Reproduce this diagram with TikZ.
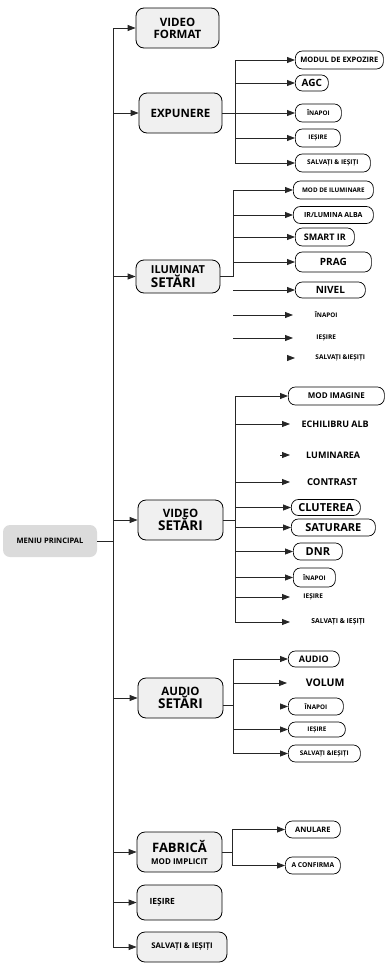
\documentclass[tikz,border=0pt]{standalone}
\usepackage{fontspec}
\setmainfont{Open Sans}
\usetikzlibrary{arrows.meta}
\newcommand{\fsz}[2]{\fontsize{#1}{#2}\selectfont}
\tikzset{
  menubox/.style={fill=gray!28, rounded corners=7pt, minimum width=94pt, minimum height=32pt, font=\bfseries\fsz{7.5}{9}},
  topbox/.style={draw, fill=gray!12, rounded corners=8pt, line width=0.8pt, align=center, font=\bfseries},
  pill/.style={draw, rounded corners=7pt, line width=0.7pt, anchor=west, inner sep=0pt, font=\bfseries},
  bare/.style={anchor=west, inner sep=0pt, font=\bfseries},
  link/.style={line width=0.8pt, draw=black!85},
  arrow/.style={link, -{Triangle[length=8pt,width=6pt]}}
}

\begin{document}
\begin{tikzpicture}[x=1pt, y=-1pt]
\useasboundingbox (0,0) rectangle (385,964);

% main menu and first level
\node[menubox] (menu) at (50,541) {MENIU PRINCIPAL};
\node[topbox, minimum width=83pt, minimum height=40pt] (vf) at (177.5,28) {\fsz{11.5}{17}VIDEO\\\fsz{11.5}{17}FORMAT};
\node[topbox, minimum width=83pt, minimum height=40pt] (ex) at (180.5,113) {\fsz{11.5}{14}EXPUNERE};
\node[topbox, minimum width=84pt, minimum height=33pt, align=left] (il) at (178,276.5) {\fsz{11}{16}ILUMINAT\\\fsz{13.5}{16}SETĂRI};
\node[topbox, minimum width=85pt, minimum height=40pt] (vs) at (180.5,520) {\fsz{11.5}{16}VIDEO\\\fsz{13.5}{16}SETĂRI};
\node[topbox, minimum width=85pt, minimum height=40pt] (as) at (180.5,698) {\fsz{11.5}{16}AUDIO\\\fsz{13.5}{16}SETĂRI};
\node[topbox, minimum width=85pt, minimum height=40pt] (fx) at (179.5,852) {\fsz{13}{20}FABRICĂ\\\fsz{8}{20}MOD IMPLICIT};
\node[topbox, minimum width=85pt, minimum height=35pt, align=left, text width=60pt] (ix) at (179.5,902.5) {\fsz{8.5}{10}IEȘIRE};
\node[topbox, minimum width=90pt, minimum height=30pt] (sx) at (182,947) {\fsz{7.8}{10}SALVAȚI \& IEȘIȚI};

% expunere
\node[pill, minimum width=88pt, minimum height=18pt] (e1) at (295,60) {\fsz{7.5}{9}MODUL DE EXPOZIRE};
\node[pill, minimum width=33pt, minimum height=16pt] (e2) at (295,83) {\fsz{10}{12}AGC};
\node[pill, minimum width=46pt, minimum height=18pt] (e3) at (295,113) {\fsz{6.3}{8}ÎNAPOI};
\node[pill, minimum width=45pt, minimum height=18pt] (e4) at (295,138) {\fsz{6.3}{8}IEȘIRE};
\node[pill, minimum width=75pt, minimum height=18pt] (e5) at (295,163) {\fsz{6.5}{8}SALVAȚI \& IEȘIȚI};

% iluminat
\node[pill, minimum width=80pt, minimum height=18pt] (i1) at (293,190) {\fsz{6.3}{8}MOD DE ILUMINARE};
\node[pill, minimum width=80pt, minimum height=17pt] (i2) at (293,215) {\fsz{7}{8}IR/LUMINA ALBA};
\node[pill, minimum width=59pt, minimum height=18pt] (i3) at (295,237) {\fsz{9}{11}SMART IR};
\node[pill, minimum width=76pt, minimum height=20pt] (i4) at (295,262) {\fsz{10}{12}PRAG};
\node[pill, minimum width=70pt, minimum height=16pt] (i5) at (295,290) {\fsz{10}{12}NIVEL};
\node[bare, minimum width=66pt] (i6) at (293,315) {\fsz{6.3}{8}ÎNAPOI};
\node[bare, minimum width=66pt] (i7) at (293,338) {\fsz{6.5}{8}IEȘIRE};
\node[bare, minimum width=90pt] (i8) at (295,358) {\fsz{6.5}{8}SALVAȚI \&IEȘIȚI};

% video setari
\node[pill, minimum width=96pt, minimum height=18pt] (v1) at (288,396) {\fsz{8}{10}MOD IMAGINE};
\node[bare, minimum width=90pt] (v2) at (290,424) {\fsz{9}{11}ECHILIBRU ALB};
\node[bare, minimum width=86pt] (v3) at (290,455) {\fsz{9}{11}LUMINAREA};
\node[bare, minimum width=84pt] (v4) at (290,482) {\fsz{9.5}{11}CONTRAST};
\node[pill, minimum width=69pt, minimum height=16pt] (v5) at (291,507.5) {\fsz{11}{13}CLUTEREA};
\node[pill, minimum width=84pt, minimum height=17pt] (v6) at (291,527.5) {\fsz{11}{13}SATURARE};
\node[pill, minimum width=49pt, minimum height=17pt] (v7) at (293,551.5) {\fsz{11}{13}DNR};
\node[pill, minimum width=42pt, minimum height=19pt] (v8) at (293,577.5) {\fsz{6.3}{8}ÎNAPOI};
\node[bare, minimum width=46pt] (v9) at (290,597) {\fsz{6.5}{8}IEȘIRE};
\node[bare, minimum width=96pt] (v10) at (290,622) {\fsz{6.8}{8}SALVAȚI \& IEȘIȚI};

% audio setari
\node[pill, minimum width=51pt, minimum height=16pt] (a1) at (288,659) {\fsz{9}{11}AUDIO};
\node[bare, minimum width=76pt] (a2) at (287,683) {\fsz{10.5}{12}VOLUM};
\node[pill, minimum width=55pt, minimum height=17pt] (a3) at (288,706.5) {\fsz{6.3}{8}ÎNAPOI};
\node[pill, minimum width=57pt, minimum height=15pt] (a4) at (288,729.5) {\fsz{6.3}{8}IEȘIRE};
\node[pill, minimum width=72pt, minimum height=17pt] (a5) at (288,753.5) {\fsz{6.4}{8}SALVAȚI \&IEȘIȚI};

% fabrica
\node[pill, minimum width=55pt, minimum height=17pt] (f1) at (285,829.5) {\fsz{7.5}{9}ANULARE};
\node[pill, minimum width=55pt, minimum height=17pt] (f2) at (285,865.5) {\fsz{6.7}{8}A CONFIRMA};

% trunk
\coordinate (trunk) at (113,0);
\draw[link] (trunk |- vf) -- (trunk |- sx);
\draw[link] (menu.east) -- (trunk |- menu);
\draw[arrow] (trunk |- vf) -- (vf.west);
\draw[arrow] (trunk |- ex) -- (ex.west);
\draw[arrow] (trunk |- il) -- (il.west);
\draw[arrow] (trunk |- vs) -- (vs.west);
\draw[arrow] (trunk |- as) -- (as.west);
\draw[arrow] (trunk |- fx) -- (fx.west);
\draw[arrow] (trunk |- ix) -- (ix.west);
\draw[arrow] (trunk |- sx) -- (sx.west);

% expunere links
\coordinate (eb) at (235,113);
\draw[link] (ex.east) -- (eb);
\draw[link] (eb |- e1) -- (eb |- e5);
\draw[arrow] (eb |- e1) -- (e1.west);
\draw[arrow] (eb |- e2) -- (e2.west);
\draw[arrow] (eb |- e3) -- (e3.west);
\draw[arrow] (eb |- e4) -- (e4.west);
\draw[arrow] (eb |- e5) -- (e5.west);

% iluminat links
\coordinate (ib) at (233,276.5);
\draw[link] (il.east) -- (ib);
\draw[link] (ib) -- (ib |- i1);
\draw[arrow] (ib |- i1) -- (i1.west);
\draw[arrow] (ib |- i2) -- (i2.west);
\draw[arrow] (ib |- i3) -- (i3.west);
\draw[arrow] (ib |- i4) -- (i4.west);
\draw[arrow] (ib |- i5) -- (i5.west);
\draw[arrow] (ib |- i6) -- (i6.west);
\draw[arrow] (ib |- i7) -- (i7.west);
\draw[arrow] ([xshift=-8pt]i8.west) -- (i8.west);

% video links
\coordinate (vb) at (235,520);
\draw[link] (vs.east) -- (vb);
\draw[link] (vb |- v1) -- (vb |- v10);
\draw[arrow] (vb |- v1) -- (v1.west);
\draw[arrow] (vb |- v2) -- (v2.west);
\draw[arrow] ([xshift=-10pt]v3.west) -- (v3.west);
\draw[arrow] (vb |- v4) -- (v4.west);
\draw[arrow] (vb |- v5) -- (v5.west);
\draw[arrow] (vb |- v6) -- (v6.west);
\draw[arrow] (vb |- v7) -- (v7.west);
\draw[arrow] (vb |- v8) -- (v8.west);
\draw[arrow] (vb |- v9) -- (v9.west);
\draw[arrow] (vb |- v10) -- (v10.west);

% audio links
\coordinate (ab) at (233,705);
\draw[link] ([yshift=-7pt]as.east) -- (ab);
\draw[link] (ab |- a1) -- (ab |- a5);
\draw[arrow] (ab |- a1) -- (a1.west);
\draw[arrow] (ab |- a2) -- (a2.west);
\draw[arrow] ([xshift=-8pt]a3.west) -- (a3.west);
\draw[arrow] (ab |- a4) -- (a4.west);
\draw[arrow] (ab |- a5) -- (a5.west);

% fabrica links
\coordinate (fb) at (232,852);
\draw[link] (fx.east) -- (fb);
\draw[link] (fb |- f1) -- (fb |- f2);
\draw[arrow] (fb |- f1) -- (f1.west);
\draw[arrow] (fb |- f2) -- (f2.west);
\end{tikzpicture}
\end{document}
